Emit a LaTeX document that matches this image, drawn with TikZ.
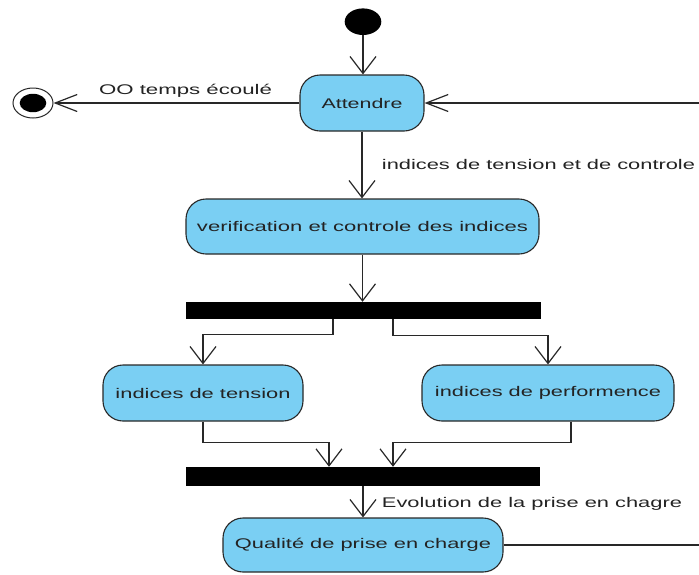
\documentclass[tikz,border=0pt]{standalone}
\usepackage{fontspec}
\setmainfont{Liberation Sans}
\usetikzlibrary{arrows.meta,shapes.geometric}
\definecolor{actblue}{RGB}{122,207,243}
\definecolor{linegray}{RGB}{40,40,40}
\definecolor{textgray}{RGB}{35,35,35}
\newcommand{\fitw}[2]{\resizebox{#1pt}{\height}{#2}}
\tikzset{
  act/.style={draw=linegray, line width=1.1pt, fill=actblue, rounded corners=20pt,
    inner sep=0pt, text=textgray, font=\fontsize{14}{14}\selectfont},
  syncbar/.style={fill=black, inner sep=0pt},
  flow/.style={line width=1.2pt, draw=linegray,
    -{Straight Barb[length=17pt,width=26pt,line width=1.2pt]}},
  hflow/.style={line width=1.2pt, draw=linegray,
    -{Straight Barb[length=22pt,width=17pt,line width=1.2pt]}},
  plain/.style={line width=1.2pt, draw=linegray},
  lbl/.style={font=\fontsize{14}{14}\selectfont, text=textgray, inner sep=0pt},
}
\begin{document}
\begin{tikzpicture}[x=1pt,y=-1pt]
\useasboundingbox (0,0) rectangle (699,574);
% nodes
\node[ellipse, fill=black, inner sep=0pt, minimum width=36.6pt, minimum height=26.6pt] (start) at (363,21.7) {};
\node[ellipse, draw=linegray, line width=1pt, fill=white, inner sep=0pt, minimum width=40pt, minimum height=30pt] (endo) at (33,103) {};
\node[ellipse, fill=black, inner sep=0pt, minimum width=26.6pt, minimum height=18.4pt] (endi) at (33,103) {};
\node[act, minimum width=124pt, minimum height=56pt] (att) at (362,103) {\fitw{81}{Attendre}};
\node[act, minimum width=353pt, minimum height=55pt] (ver) at (362.5,226.5) {\fitw{331}{verification et controle des indices}};
\node[syncbar, minimum width=355pt, minimum height=17pt] (fork) at (363.5,310.5) {};
\node[act, minimum width=200pt, minimum height=56pt] (ten) at (203,393) {\fitw{175}{indices de tension}};
\node[act, minimum width=252pt, minimum height=56pt] (perf) at (548,393) {\fitw{226}{indices de performence}};
\node[syncbar, minimum width=354pt, minimum height=19pt] (join) at (363,476.5) {};
\node[act, minimum width=280pt, minimum height=54pt] (qual) at (363,545) {\fitw{256}{Qualité de prise en charge}};
\coordinate (rin) at (699,103);
\coordinate (rout) at (699,545);
% labels
\node[lbl] (l1) at (185.5,90.5) {\fitw{173}{OO temps écoulé}};
\node[lbl] (l2) at (538.5,164) {\fitw{313}{indices de tension et de controle}};
\node[lbl] (l3) at (532,504) {\fitw{300}{Evolution de la prise en chagre}};
% edges
\draw[flow] (start.south) -- (start.south |- att.north);
\draw[hflow] (att.west) -- (endo.east);
\draw[hflow] (rin) -- (att.east);
\draw[flow] (att.south) -- (att.south |- ver.north);
\draw[flow] (ver.south) -- (ver.south |- fork.north);
\draw[flow] ([xshift=-30.5pt]fork.south) -- ++(0,15) -| (ten.north);
\draw[flow] ([xshift=29.5pt]fork.south) -- ++(0,16) -| (perf.north);
\draw[flow] (ten.south) -- ++(0,21) -| ([xshift=-34pt]join.north);
\draw[flow] ([xshift=23pt]perf.south) -- ++(0,21) -| ([xshift=30pt]join.north);
\draw[flow] (join.south) -- (join.south |- qual.north);
\draw[plain] (qual.east) -- (rout);
\end{tikzpicture}
\end{document}
